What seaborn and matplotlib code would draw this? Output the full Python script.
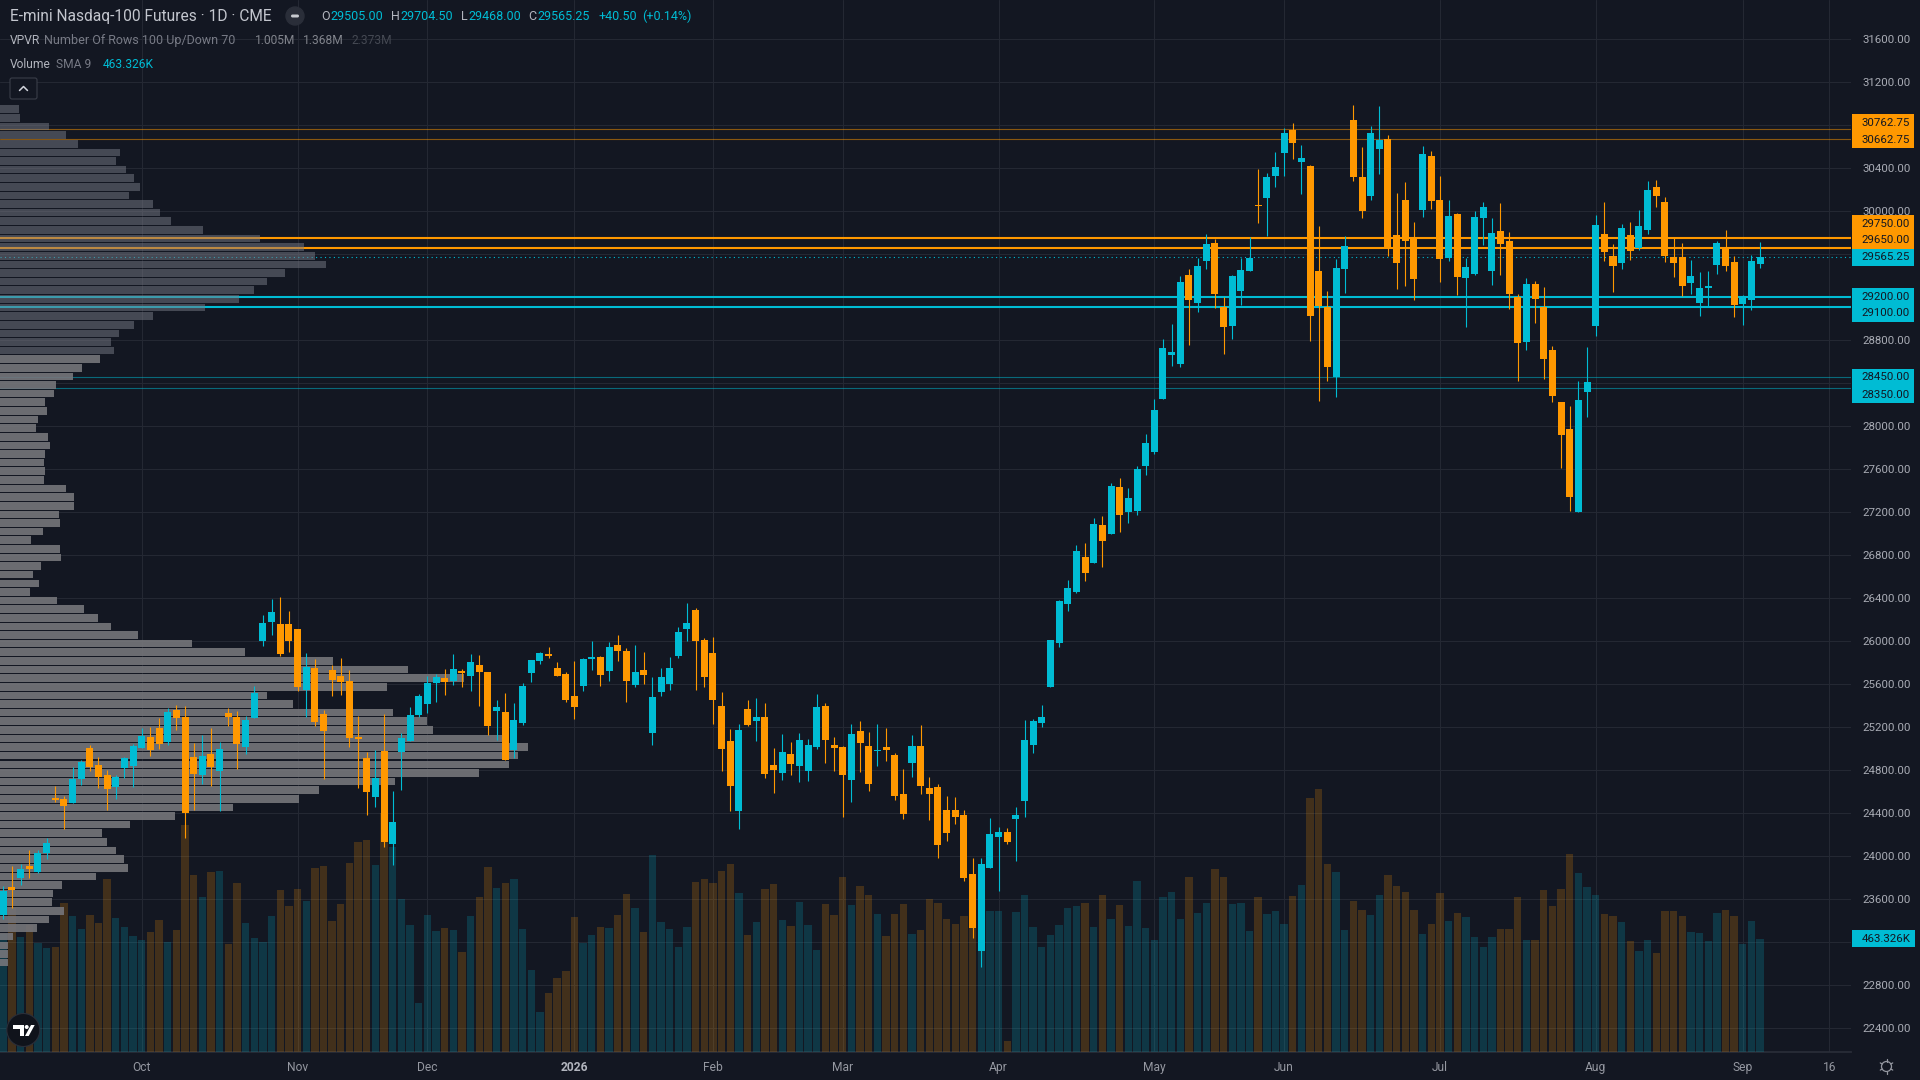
import numpy as np
import pandas as pd
import matplotlib
matplotlib.use("Agg")
import matplotlib.pyplot as plt
from matplotlib import font_manager as fm
from matplotlib.patches import Circle, FancyBboxPatch, Polygon, Rectangle
import seaborn as sns

opens = [23450,23710,23794,23905,23849,24026,24538,24528,24491,24714,
25003,24845,24752,24640,24817,24835,25003,25105,25189,25058,
25356,25291,24919,24752,24947,24789,25328,25291,25012,25282,
25998,26174,26156,26156,26109,25542,25747,25319,25728,25672,
25626,25105,24910,24547,24975,24110,24965,25068,25310,25412,
25607,25654,25626,25719,25672,25775,25709,25347,25337,24984,
25235,25700,25812,25877,25747,25691,25486,25579,25830,25849,
25719,25961,25905,25588,25728,25142,25523,25598,25858,26109,
26286,26007,25886,25393,25068,24417,25365,25254,25291,24845,
24770,24947,24835,24789,25012,25393,25031,25012,24705,25161,
25021,24975,25012,24937,24575,24863,25021,24631,24640,24426,
24426,24379,23831,23115,23887,24175,24221,24342,24510,25031,
25235,25570,25979,26342,26454,26780,26724,27078,26994,27431,
27198,27208,27626,27756,28249,28658,28575,29403,29142,29533,
29700,29105,28928,29254,29440,30054,30119,30323,30537,30751,
30453,30416,29440,29105,28454,29458,30844,30314,30137,30574,
30667,29775,30100,29756,30007,30509,30100,29561,29970,29375,
29412,29933,29440,29812,29719,29198,28779,29319,29105,28705,
28221,27970,27198,28314,28928,29784,29579,29514,29775,29654,
29821,30221,30081,29570,29570,29328,29142,29282,29496,29654,
29523,29133,29170,29505]
highs = [23719,23905,23924,24054,24054,24166,24649,24556,24823,24891,
25031,24919,24798,24752,24922,25040,25189,25198,25282,25372,
25403,25393,25049,25123,25189,25061,25375,25347,25300,25579,
26240,26388,26407,26277,26109,25886,25830,25356,25775,25840,
25728,25300,24965,24984,25319,24603,25142,25384,25505,25672,
25691,25737,25877,25737,25877,25867,25709,25449,25514,25421,
25607,25821,25895,25942,25802,25709,25812,25840,25998,25858,
25988,26053,25930,25961,25895,25663,25747,25849,26128,26351,
26305,26026,26035,25523,25179,25226,25449,25468,25421,25003,
25133,25058,25142,25086,25505,25421,25105,25021,25226,25254,
25151,25226,25189,24956,24807,25123,25216,24733,24668,24556,
24547,24426,23980,23980,24352,24268,24259,24454,25263,25272,
25403,26007,26379,26565,26892,26910,27143,27161,27468,27515,
27422,27626,27924,28249,28807,28947,29393,29458,29561,29784,
29737,29198,29403,29561,29756,30388,30351,30546,30770,30816,
30612,30426,29858,29254,29551,29765,30984,30593,30788,30974,
30704,30165,30267,29895,30602,30556,30323,30100,29979,29561,
30000,30081,29933,30072,29802,29226,29375,29347,29291,28742,
28221,28184,28417,28733,29961,30081,29691,29877,29895,30007,
30277,30286,30128,29746,29700,29542,29430,29440,29719,29821,
29579,29217,29588,29704.5]
lows = [23412,23515,23728,23794,23840,23970,24500,24249,24491,24659,
24789,24631,24426,24528,24727,24643,25003,24928,24993,25031,
25170,24166,24426,24668,24649,24417,25207,24804,24947,25282,
25951,26053,25858,25895,25533,25291,25207,24714,25486,25496,
25012,24631,24379,24454,24082,23915,24612,25068,25291,25328,
25430,25496,25588,25570,25533,25393,25123,25077,24891,24910,
25216,25616,25784,25840,25672,25430,25272,25533,25728,25579,
25626,25812,25430,25570,25598,25031,25486,25542,25840,25998,
25542,25570,25226,24789,24417,24249,25207,25068,24724,24584,
24705,24752,24686,24696,24993,24863,24789,24361,24500,24779,
24603,24835,24882,24519,24342,24733,24575,24333,23980,24138,
24296,23766,23236,22966,23887,23673,24110,23952,24361,24956,
25198,25570,25942,26277,26445,26557,26724,26687,26994,27012,
27096,27171,27543,27738,28249,28556,28547,28752,29058,29458,
29096,28668,28807,29124,29440,29886,29765,30221,30323,30481,
30156,28789,28231,28417,28268,29235,30277,29933,30100,30342,
29579,29272,29300,29170,29942,30016,29337,29533,29217,28919,
29403,29682,29310,29403,29086,28417,28705,28956,28435,28221,
27608,27208,27198,28082,28835,29533,29244,29458,29542,29635,
29784,30035,29523,29384,29207,29226,29021,29114,29412,29440,
29012,28938,29077,29468]
closes = [23673,23682,23877,23877,24026,24119,24519,24463,24714,24872,
24826,24733,24621,24733,24910,25021,25114,24984,25040,25337,
25282,24398,24761,24928,24826,24993,25291,25040,25263,25514,
26165,26267,25877,25998,25570,25756,25244,25161,25635,25616,
25096,25086,24593,24724,24128,24314,25096,25310,25486,25607,
25663,25616,25737,25700,25802,25709,25207,25384,24891,25263,
25579,25821,25886,25858,25672,25449,25384,25830,25849,25682,
25942,25905,25626,25709,25682,25477,25663,25747,26081,26165,
25998,25663,25449,24993,24649,25170,25216,25291,24761,24798,
24965,24854,25077,25031,25384,25077,25003,24752,25133,25049,
24668,24984,24984,24556,24389,25021,24649,24575,24100,24212,
24361,23794,23329,23924,24203,24221,24128,24379,25077,25254,
25291,26007,26370,26491,26836,26631,27087,26929,27440,27171,
27329,27598,27840,28147,28724,28686,29337,29170,29486,29691,
29226,28919,29393,29449,29561,30044,30314,30407,30723,30630,
30491,29021,29114,28547,29468,29672,30314,29998,30723,30658,
29654,29514,29719,29365,30528,30091,29551,29951,29384,29477,
29942,30035,29793,29691,29226,28770,29319,29179,28621,28277,
27915,27338,28240,28407,29868,29616,29486,29840,29626,29858,
30193,30137,29579,29514,29300,29393,29282,29300,29700,29486,
29124,29189,29533,29565.25]
volumes_k = [482,589,470,519,446,425,429,609,556,503,
560,527,707,548,511,474,458,491,540,450,
499,928,724,634,736,740,442,691,527,466,
450,556,662,597,666,617,752,760,536,605,
773,858,867,764,976,839,625,519,200,560,
495,507,499,409,556,634,756,670,691,707,
503,335,164,241,303,331,552,446,478,511,
507,560,646,589,491,805,531,503,429,511,
695,707,691,740,769,650,478,531,666,687,
540,515,613,519,417,605,560,715,601,679,
642,564,474,564,605,482,499,625,609,544,
523,556,546,567,576,576,45,572,642,511,
429,478,519,589,597,609,511,642,544,601,
515,699,507,458,634,654,544,715,568,609,
748,715,605,609,495,634,564,576,525,639,
684,1040,1077,770,737,500,619,582,561,643,
725,680,655,582,484,525,651,537,570,553,
471,431,471,504,504,635,459,459,664,598,
668,811,733,676,643,566,557,533,455,414,
459,406,578,578,557,492,488,455,570,582,
557,443,537,463.326]
profile_rows = [19,20,49,66,78,120,116,126,134,140,129,153,160,171,203,260,304,315,326,285,
267,254,239,205,153,134,119,111,114,100,82,73,56,54,45,47,38,36,48,50,
45,44,45,44,66,74,74,59,60,43,31,60,61,41,33,39,30,57,84,98,
111,138,192,245,333,408,464,387,267,293,393,427,433,502,528,518,509,479,395,319,
299,233,175,130,102,107,116,124,128,96,62,53,52,64,49,37,13,8,8,8]
DARK_PROFILE_ROWS = 29
orange_thick = [29750.00, 29650.00]
orange_thin = [30762.75, 30662.75]
teal_thick = [29200.00, 29100.00]
teal_thin = [28450.00, 28350.00]
last_price = 29565.25
price_ticks = list(range(22400, 32000, 400))
hidden_price_labels = [30800, 29600, 29200, 28400, 23200]
month_labels = ["Oct", "Nov", "Dec", "2026", "Feb", "Mar", "Apr", "May", "Jun", "Jul", "Aug", "Sep", "16"]
month_bars = [16, 34, 49, 66, 82, 97, 115, 133, 148, 166, 184, 201, 211]

BG = "#131722"; TEAL = "#00bcd4"; ORANGE = "#ff9800"; GRID = "#242833"
W, H = 1920, 1080
AX_R, AX_B = 1851, 1052
XLIM = (-0.38, 213.5)
YLIM = (22174, 31960)
VOL_TOP = 4301

sns.set_theme(style="dark")
names = {f.name for f in fm.fontManager.ttflist}
FONT = next(n for n in ["Roboto", "DejaVu Sans"] if n in names)
plt.rcParams["font.family"] = [FONT, "DejaVu Sans"]
plt.rcParams["text.color"] = "#b2b5be"

fig = plt.figure(figsize=(W / 100, H / 100), dpi=100, facecolor=BG)
rect = [0, 1 - AX_B / H, AX_R / W, AX_B / H]

idx = np.arange(len(opens))
df = pd.DataFrame({"bar": idx, "open": opens, "high": highs, "low": lows, "close": closes, "vol": volumes_k})
df["dir"] = np.where(df["close"] >= df["open"], "up", "down")
palette = {"up": TEAL, "down": ORANGE}

def px(s):
    return s * 0.72

# background + grid
ax_bg = fig.add_axes(rect, facecolor=BG, zorder=1)
ax_bg.set_xlim(*XLIM); ax_bg.set_ylim(*YLIM)
ax_bg.set_xticks(month_bars); ax_bg.set_yticks(price_ticks)
ax_bg.grid(True, color=GRID, lw=0.8)
ax_bg.tick_params(left=False, bottom=False, labelleft=False, labelbottom=False)
for s in ax_bg.spines.values():
    s.set_visible(False)
ax_bg.spines["bottom"].set_visible(True)
ax_bg.spines["bottom"].set_color("#2a2e39")

# volume
ax_vol = fig.add_axes(rect, facecolor="none", zorder=2)
sns.barplot(data=df, x="bar", y="vol", hue="dir", hue_order=["up", "down"], palette=palette,
            native_scale=True, dodge=False, width=0.85, alpha=0.2, saturation=1, errorbar=None,
            linewidth=0, legend=False, ax=ax_vol)
ax_vol.set_xlim(*XLIM); ax_vol.set_ylim(0, VOL_TOP)
ax_vol.axis("off")

# levels + volume profile
ax_vp = fig.add_axes(rect, facecolor="none", zorder=3)
for v in orange_thick:
    ax_vp.axhline(v, color=ORANGE, lw=1.5, zorder=1)
for v in teal_thick:
    ax_vp.axhline(v, color=TEAL, lw=1.5, zorder=1)
for v in orange_thin:
    ax_vp.axhline(v, color=ORANGE, lw=0.8, alpha=0.5, zorder=1)
for v in teal_thin:
    ax_vp.axhline(v, color=TEAL, lw=0.8, alpha=0.5, zorder=1)
ax_vp.axhline(last_price, color=TEAL, lw=0.8, ls=(0, (1, 3)), zorder=1)

top, bottom = max(highs), min(lows)
step = (top - bottom) / len(profile_rows)
centers = top - (np.arange(len(profile_rows)) + 0.5) * step
rows = np.array(profile_rows, dtype=float)
sns.barplot(x=rows[:DARK_PROFILE_ROWS], y=centers[:DARK_PROFILE_ROWS], orient="y", native_scale=True,
            color="#787b86", alpha=0.5, width=0.88, saturation=1, errorbar=None, linewidth=0, ax=ax_vp, zorder=2)
sns.barplot(x=rows[DARK_PROFILE_ROWS:], y=centers[DARK_PROFILE_ROWS:], orient="y", native_scale=True,
            color="#76767b", alpha=0.9, width=0.88, saturation=1, errorbar=None, linewidth=0, ax=ax_vp, zorder=2)
ax_vp.set_xlim(0, AX_R); ax_vp.set_ylim(*YLIM)
ax_vp.axis("off")

# candles + axis labels
ax = fig.add_axes(rect, facecolor="none", zorder=4)
colors = df["dir"].map(palette).tolist()
ax.vlines(df["bar"], df["low"], df["high"], colors=colors, lw=0.8, zorder=2)
body_low = df[["open", "close"]].min(axis=1)
body_h = (df["open"] - df["close"]).abs()
ax.bar(df["bar"], body_h, bottom=body_low, width=0.81, color=colors, linewidth=0, zorder=3)
ax.set_xlim(*XLIM); ax.set_ylim(*YLIM)
for s in ax.spines.values():
    s.set_visible(False)
ax.yaxis.tick_right()
ax.set_yticks(price_ticks, ["" if p in hidden_price_labels else f"{p:.2f}" for p in price_ticks])
ax.set_xticks(month_bars, month_labels)
ax.tick_params(axis="y", length=0, pad=8, labelsize=px(11.5), labelcolor="#a8abb4")
ax.tick_params(axis="x", length=0, pad=6.5, labelsize=px(12), labelcolor="#9598a1")
for t in ax.get_xticklabels():
    if t.get_text() == "2026":
        t.set_fontweight("bold"); t.set_color("#b2b5be")

# pixel overlay for header, badges and icons
ui = fig.add_axes([0, 0, 1, 1], facecolor="none", zorder=5)
ui.set_xlim(0, W); ui.set_ylim(H, 0); ui.axis("off")

def txt(x, y, s, c="#b2b5be", size=13, **kw):
    ui.text(x, y, s, color=c, fontsize=px(size), va="center", ha=kw.pop("ha", "left"), **kw)

txt(9.5, 16.5, "E-mini Nasdaq-100 Futures · 1D · CME", "#c3c6ce", 15.5)
ui.add_patch(Circle((295, 16), 9, color="#2a2e39"))
ui.add_patch(FancyBboxPatch((291, 14.5), 8, 3, boxstyle="round,pad=0,rounding_size=1.5", color="#c8cad0", lw=0))
for x_l, l, x_v, v in [(321, "O", 330, "29505.00"), (391, "H", 400, "29704.50"),
                       (460.5, "L", 468.5, "29468.00"), (528, "C", 537, "29565.25")]:
    txt(x_l, 16.5, l, "#b2b5be", 12.5)
    txt(x_v, 16.5, v, TEAL, 12.5)
txt(598, 16.5, "+40.50", TEAL, 12.5)
txt(642, 16.5, "(+0.14%)", TEAL, 12.5)
txt(9.5, 40.5, "VPVR", "#b2b5be", 12)
txt(44.5, 40.5, "Number Of Rows 100 Up/Down 70", "#787b86", 12.5)
txt(255, 40.5, "1.005M", "#81848c", 12)
txt(303, 40.5, "1.368M", "#81848c", 12)
txt(351, 40.5, "2.373M", "#454953", 12)
txt(9.5, 65, "Volume", "#b2b5be", 12)
txt(56, 65, "SMA 9", "#787b86", 12)
txt(103, 65, "463.326K", TEAL, 12)
ui.add_patch(FancyBboxPatch((10, 78), 27, 21, boxstyle="round,pad=0,rounding_size=2", fc=BG, ec="#3a3e49", lw=0.8))
ui.plot([19.5, 23.5, 27.5], [90.5, 86.5, 90.5], color="#d1d4dc", lw=1.1)

def level_px(p):
    return H - ax.transData.transform((0, p))[1]

badges = [(30762.75, -6, ORANGE, "30762.75"), (30662.75, 0.5, ORANGE, "30662.75"),
          (29750.00, -14, ORANGE, "29750.00"), (29650.00, -8, ORANGE, "29650.00"),
          (29565.25, 0, TEAL, "29565.25"), (29200.00, 0, TEAL, "29200.00"),
          (29100.00, 6, TEAL, "29100.00"), (28450.00, 0, TEAL, "28450.00"),
          (28350.00, 6.5, TEAL, "28350.00")]
for p, off, col, label in badges:
    yc = level_px(p) + off
    ui.add_patch(Rectangle((1852, yc - 8.5), 62, 17, color=col, lw=0))
    txt(1861.5, yc, label, "#131722", 11.5)
vol_y = H - ax_vol.transData.transform((0, volumes_k[-1]))[1]
ui.add_patch(Rectangle((1852, vol_y - 8.5), 63, 17, color=TEAL, lw=0))
txt(1861.5, vol_y, "463.326K", "#131722", 11.5)

# logo
ui.add_patch(Circle((23.3, 1030), 16.5, fc="#10131b", ec="#2a2e39", lw=0.8))
ui.add_patch(Polygon([(12.7, 1025), (24, 1025), (24, 1036), (20, 1036), (20, 1029.3), (12.7, 1029.3)], color="white", lw=0))
ui.add_patch(Circle((26.7, 1027), 2, color="white", lw=0))
ui.add_patch(Polygon([(25, 1036), (31, 1025), (34.7, 1025), (28.7, 1036)], color="white", lw=0))

# settings gear
ui.add_patch(Circle((1886.5, 1066.5), 5, fc="none", ec="#9598a1", lw=0.9))
for a in np.arange(0, 360, 60):
    r = np.deg2rad(a + 30)
    ui.plot([1886.5 + 5 * np.cos(r), 1886.5 + 7.2 * np.cos(r)],
            [1066.5 + 5 * np.sin(r), 1066.5 + 7.2 * np.sin(r)], color="#9598a1", lw=0.9)

fig.savefig("out.png", dpi=100, facecolor=BG)
